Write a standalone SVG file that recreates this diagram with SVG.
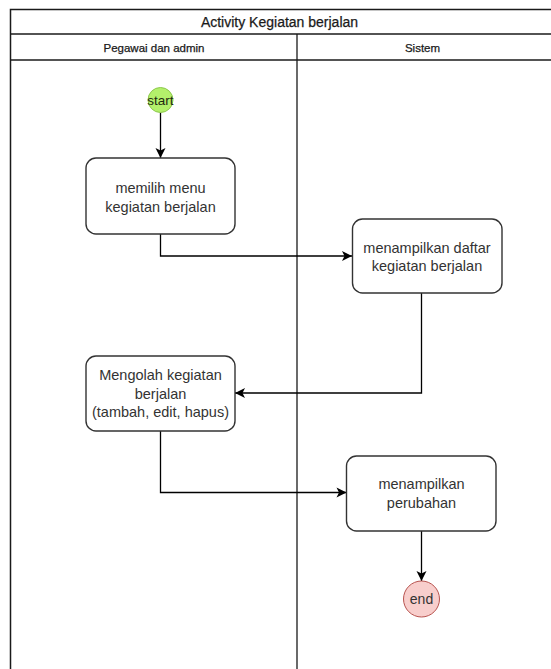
<svg xmlns="http://www.w3.org/2000/svg" width="551" height="669" viewBox="0 0 551 669">
  <defs>
    <style>
      .frame { fill: none; stroke: #1a1a1a; stroke-width: 1.5; }
      .rule { stroke: #1a1a1a; stroke-width: 1.3; fill: none; }
      .hdr { font-family: "Liberation Sans", Arial, sans-serif; fill: #1a1a1a; text-anchor: middle; stroke: #1a1a1a; stroke-width: 0.25; }
      .box { fill: #ffffff; stroke: #333333; stroke-width: 1.4; }
      .lbl { font-family: "Liberation Sans", Arial, sans-serif; font-size: 14.5px; fill: #333333; text-anchor: middle; }
      .edge { fill: none; stroke: #000000; stroke-width: 1.3; }
    </style>
    <marker id="arrow" markerUnits="userSpaceOnUse" markerWidth="13" markerHeight="13" refX="11" refY="6.5" orient="auto">
      <path d="M1,1.5 L11,6.5 L1,11.5 L3.5,6.5 Z" fill="#000000"/>
    </marker>
  </defs>

  <rect width="551" height="669" fill="#ffffff"/>

  <!-- swimlane frame -->
  <g id="pool">
    <rect class="frame" x="10.5" y="9.5" width="545" height="670"/>
    <line class="rule" x1="10.5" y1="34" x2="551" y2="34"/>
    <line class="rule" x1="10.5" y1="60" x2="551" y2="60"/>
    <line class="rule" x1="297" y1="34" x2="297" y2="669"/>
    <text class="hdr" x="279.5" y="26.5" font-size="14">Activity Kegiatan berjalan</text>
    <text class="hdr" x="154" y="51.5" font-size="11.5">Pegawai dan admin</text>
    <text class="hdr" x="422.5" y="51.5" font-size="11.5">Sistem</text>
  </g>

  <!-- connectors -->
  <g id="edges">
    <path class="edge" d="M160.5,112.5 V158" marker-end="url(#arrow)"/>
    <path class="edge" d="M160.5,234 V256 H352" marker-end="url(#arrow)"/>
    <path class="edge" d="M421.5,293 V393 H235" marker-end="url(#arrow)"/>
    <path class="edge" d="M160.5,431 V492.5 H346.5" marker-end="url(#arrow)"/>
    <path class="edge" d="M421.5,531 V581" marker-end="url(#arrow)"/>
  </g>

  <g id="start">
    <circle cx="160.5" cy="100" r="12.5" fill="#b3f06b" stroke="#8cc84b" stroke-width="1"/>
    <text x="160.5" y="104.5" font-family="'Liberation Sans', Arial, sans-serif" font-size="13.5" fill="#1f2a10" text-anchor="middle">start</text>
  </g>

  <g id="pilih-menu">
    <rect class="box" x="86" y="158" width="149" height="76" rx="10"/>
    <text class="lbl" x="160.5" y="193">memilih menu</text>
    <text class="lbl" x="160.5" y="212">kegiatan berjalan</text>
  </g>

  <g id="tampil-daftar">
    <rect class="box" x="352.5" y="219" width="149.5" height="74" rx="10"/>
    <text class="lbl" x="427" y="252.5">menampilkan daftar</text>
    <text class="lbl" x="427" y="271">kegiatan berjalan</text>
  </g>

  <g id="olah-kegiatan">
    <rect class="box" x="86" y="356" width="149" height="75" rx="10"/>
    <text class="lbl" x="160.5" y="380">Mengolah kegiatan</text>
    <text class="lbl" x="160.5" y="398.5">berjalan</text>
    <text class="lbl" x="160.5" y="417">(tambah, edit, hapus)</text>
  </g>

  <g id="tampil-perubahan">
    <rect class="box" x="346.5" y="456" width="149.5" height="75" rx="10"/>
    <text class="lbl" x="421.5" y="488.5">menampilkan</text>
    <text class="lbl" x="421.5" y="507.5">perubahan</text>
  </g>

  <g id="end">
    <circle cx="421.5" cy="599" r="18" fill="#f8cecc" stroke="#b85450" stroke-width="1"/>
    <text x="421.5" y="604" font-family="'Liberation Sans', Arial, sans-serif" font-size="14" fill="#333333" text-anchor="middle">end</text>
  </g>
</svg>
